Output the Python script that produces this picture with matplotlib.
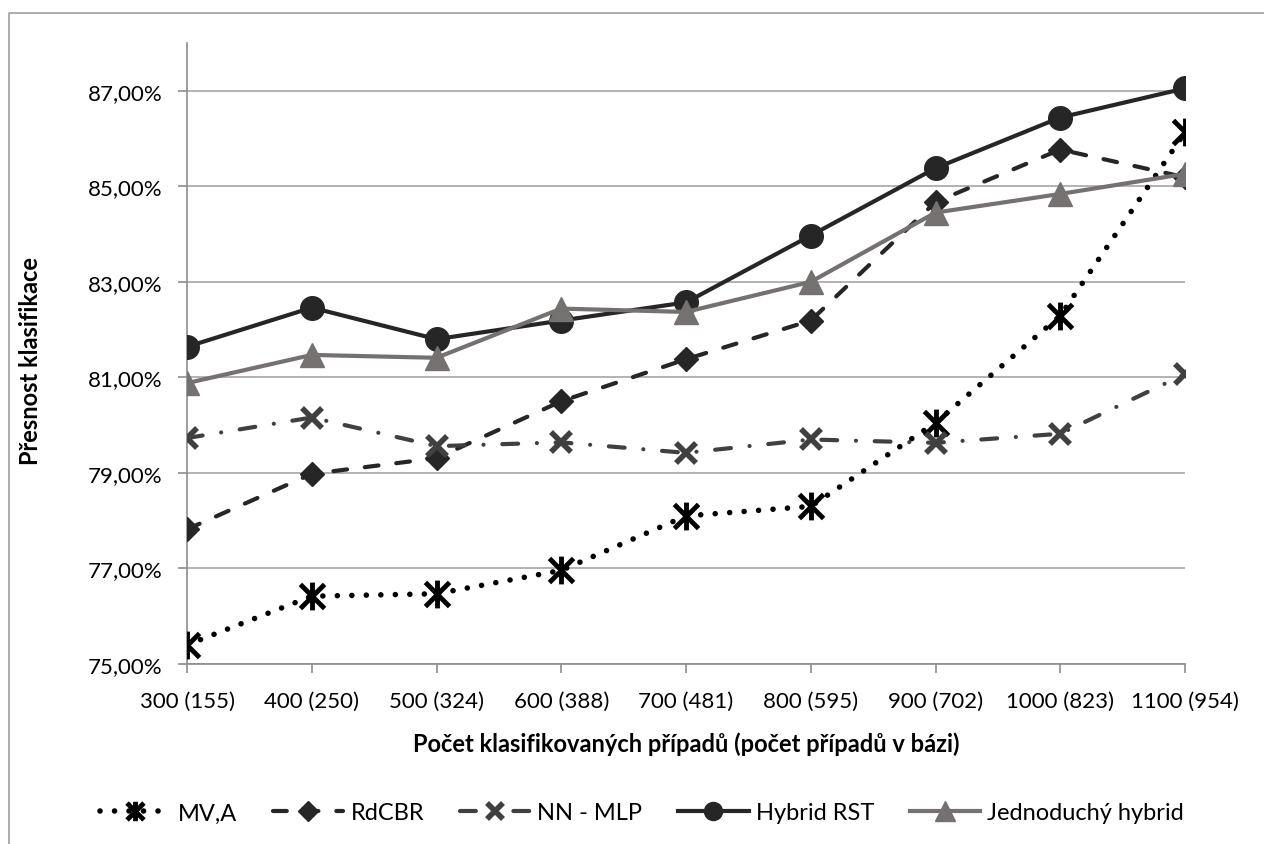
import matplotlib
matplotlib.use("Agg")
import matplotlib.pyplot as plt
from matplotlib.path import Path
from matplotlib.lines import Line2D
from matplotlib.ticker import FuncFormatter

plt.rcParams['font.family'] = ['Lato', 'DejaVu Sans']

# počet klasifikovaných případů (počet případů v bázi)
kategorie = ["300 (155)", "400 (250)", "500 (324)", "600 (388)", "700 (481)",
             "800 (595)", "900 (702)", "1000 (823)", "1100 (954)"]

# přesnost klasifikace v %
mv_a = [75.40, 76.42, 76.47, 76.96, 78.10, 78.30, 80.05, 82.29, 86.13]
rdcbr = [77.82, 78.98, 79.31, 80.50, 81.38, 82.19, 84.67, 85.77, 85.19]
nn_mlp = [79.73, 80.16, 79.56, 79.64, 79.42, 79.70, 79.63, 79.82, 81.07]
hybrid_rst = [81.64, 82.46, 81.80, 82.19, 82.57, 83.97, 85.38, 86.44, 87.05]
jednoduchy = [80.88, 81.47, 81.41, 82.44, 82.37, 83.00, 84.45, 84.84, 85.26]

# hvězdička: X + svislá čára
hvezda = Path([(-1, -1), (1, 1), (-1, 1), (1, -1), (0, -1.15), (0, 1.15)],
              [Path.MOVETO, Path.LINETO, Path.MOVETO, Path.LINETO, Path.MOVETO, Path.LINETO])

fig = plt.figure(figsize=(12.64, 8.45), dpi=100)
ax = fig.add_axes([187 / 1264, 1 - 665 / 845, (1185 - 187) / 1264, (665 - 44) / 845])

x = list(range(len(kategorie)))
lw = 3

# styl řad: (data, popisek, styl čáry, styl značky, velikost značky v legendě)
rady = [
    (mv_a, 'MV,A',
     dict(color='black', lw=4, linestyle=(0, (0.01, 2.6)), dash_capstyle='round', zorder=3),
     dict(marker=hvezda, mew=3.5, mec='black', mfc='none'), 20, 14),
    (rdcbr, 'RdCBR',
     dict(color='#262626', lw=lw, linestyle=(0, (3.3, 4.3)), dash_capstyle='round', zorder=4),
     dict(marker='D', mec='#262626', mfc='#262626'), 12.5, 10),
    (nn_mlp, 'NN - MLP',
     dict(color='#404040', lw=lw, linestyle=(0, (3.8, 4.5, 0.01, 4.5)), dash_capstyle='round', zorder=5),
     dict(marker='x', mew=4, mec='#404040'), 14, 11),
    (hybrid_rst, 'Hybrid RST',
     dict(color='#262626', lw=lw, zorder=6),
     dict(marker='o', mec='#262626', mfc='#262626'), 17, 13),
    (jednoduchy, 'Jednoduchý hybrid',
     dict(color='#767171', lw=lw, zorder=7),
     dict(marker='^', mec='#767171', mfc='#767171'), 17, 14),
]

handles = []
for data, popisek, cara, znacka, ms, ms_leg in rady:
    ax.plot(x, data, ms=ms, **cara, **znacka)
    handles.append(Line2D([], [], ms=ms_leg, **cara, **znacka))

ax.set_xlim(0, 8)
ax.set_ylim(75, 88)
ax.set_yticks([75, 77, 79, 81, 83, 85, 87])
ax.yaxis.set_major_formatter(FuncFormatter(lambda v, p: f"{v:.2f}%".replace('.', ',')))
ax.set_xticks(x)
ax.set_xticklabels(kategorie)

ax.grid(axis='y', color='#a6a6a6', lw=1.2)
ax.set_axisbelow(True)
for s in ['top', 'right']:
    ax.spines[s].set_visible(False)
for s in ['left', 'bottom']:
    ax.spines[s].set_color('#8c8c8c')
    ax.spines[s].set_linewidth(1.2)
ax.tick_params(axis='both', colors='#8c8c8c', length=6.5, width=1.2, labelsize=16,
               labelcolor='black')
ax.tick_params(axis='x', pad=13)
ax.tick_params(axis='y', pad=11)

ax.set_xlabel('Počet klasifikovaných případů (počet případů v bázi)', fontsize=17,
              fontweight='bold')
ax.set_ylabel('Přesnost klasifikace', fontsize=17, fontweight='bold')
ax.xaxis.set_label_coords(0.5, -0.108)
ax.yaxis.set_label_coords(-0.145, 0.49)

fig.legend(handles, [r[1] for r in rady], loc='center', bbox_to_anchor=(0.508, 1 - 814 / 845),
           ncol=5, frameon=False, fontsize=17, handlelength=3.0, columnspacing=1.5,
           handletextpad=0.3)

# rámeček grafu
fig.add_artist(Line2D([9 / 1264, 9 / 1264, 1.0], [0.0, 1 - 14 / 845, 1 - 14 / 845],
                      color='#a0a0a0', lw=1.2))

fig.savefig('out.png', dpi=100)
